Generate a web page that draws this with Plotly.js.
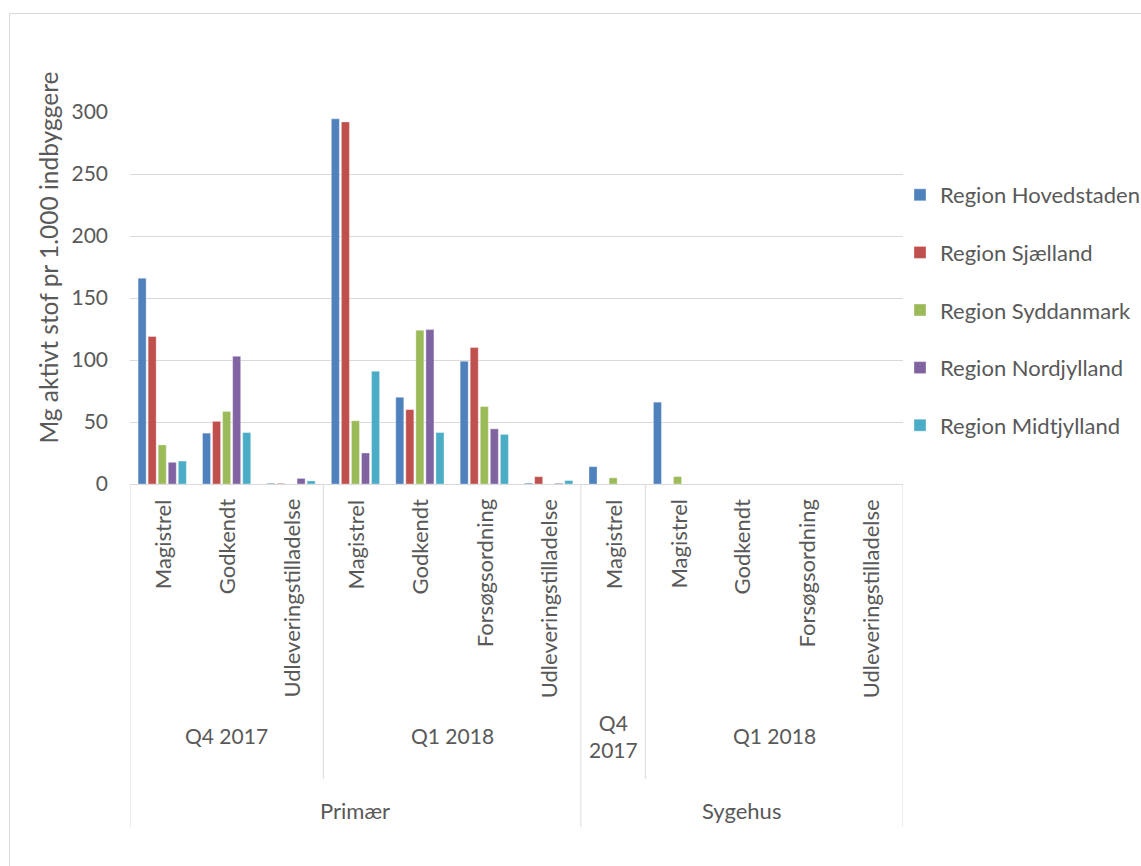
<!DOCTYPE html>
<html>
<head>
<meta charset="utf-8">
<script src="https://cdn.plot.ly/plotly-3.0.1.min.js"></script>
<style>
  html, body { margin: 0; padding: 0; background: #ffffff; }
  #chart { width: 1141px; height: 866px; }
</style>
</head>
<body>
<div id="chart"></div>
<script>
// Category hierarchy (innermost first)
const productTypes = ['Magistrel', 'Godkendt', 'Udleveringstilladelse',
  'Magistrel', 'Godkendt', 'Forsøgsordning', 'Udleveringstilladelse',
  'Magistrel',
  'Magistrel', 'Godkendt', 'Forsøgsordning', 'Udleveringstilladelse'];
const quarters = ['Q4 2017', 'Q4 2017', 'Q4 2017',
  'Q1 2018', 'Q1 2018', 'Q1 2018', 'Q1 2018',
  'Q4 2017',
  'Q1 2018', 'Q1 2018', 'Q1 2018', 'Q1 2018'];
const sectors = ['Primær', 'Primær', 'Primær', 'Primær', 'Primær', 'Primær', 'Primær',
  'Sygehus', 'Sygehus', 'Sygehus', 'Sygehus', 'Sygehus'];

// Series: mg active substance per 1,000 inhabitants
const regionNames = ['Region Hovedstaden', 'Region Sjælland', 'Region Syddanmark',
  'Region Nordjylland', 'Region Midtjylland'];
const hovedstaden = [166, 41, 0.6, 294.5, 70, 99, 0.7, 14, 66, 0, 0, 0];
const sjaelland   = [119, 50.5, 0.5, 292, 60, 110, 5.9, 0, 0, 0, 0, 0];
const syddanmark  = [31.5, 58.5, 0, 51, 124, 62.5, 0, 5, 6, 0, 0, 0];
const nordjylland = [17.5, 103, 4.5, 25, 124.5, 44.5, 0.6, 0, 0, 0, 0, 0];
const midtjylland = [18.5, 41.5, 2.5, 91, 41.5, 40, 2.8, 0, 0, 0, 0, 0];
const seriesValues = [hovedstaden, sjaelland, syddanmark, nordjylland, midtjylland];
const seriesColors = ['#4F81BD', '#C0504D', '#9BBB59', '#8064A2', '#4BACC6'];

const yTickValues = [0, 50, 100, 150, 200, 250, 300];
const yTitle = 'Mg aktivt stof pr 1.000 indbyggere';

// Plot area geometry (px) and helpers to map page pixels to paper units
const W = 1141, H = 866;
const PL = 130, PR = 903, PT = 112, PB = 484;
const px = v => (v - PL) / (PR - PL);
const py = v => (PB - v) / (PB - PT);

const FONT = 'Lato, Carlito, Calibri, "Open Sans", sans-serif';
const TXT = '#595959';
const LINE = '#D9D9D9';
const LABEL_SIZE = 22;

const idx = productTypes.map((_, i) => i);

const traces = seriesValues.map((vals, k) => ({
  type: 'bar',
  x: idx,
  y: vals,
  name: regionNames[k],
  legendgroup: regionNames[k],
  marker: { color: seriesColors[k], line: { color: 'rgba(255,255,255,0.35)', width: 1 } },
  hoverinfo: 'name+y'
}));

// Group consecutive equal labels into runs
function runs(labels, parents) {
  const out = [];
  labels.forEach((lab, i) => {
    const key = lab + '|' + (parents ? parents[i] : '');
    const last = out[out.length - 1];
    if (last && last.key === key) last.end = i;
    else out.push({ key, label: lab, start: i, end: i });
  });
  return out;
}
const quarterRuns = runs(quarters, sectors);
const sectorRuns = runs(sectors);

const annotations = [];
// Value-axis title, set slightly above the middle of the plot
annotations.push({
  x: px(48), xref: 'paper', y: py(257.5), yref: 'paper',
  text: yTitle, showarrow: false, textangle: -90,
  xanchor: 'center', yanchor: 'middle',
  font: { family: FONT, size: 24.5, color: TXT }
});
productTypes.forEach((lab, i) => {
  annotations.push({
    x: i, xref: 'x', y: py(497), yref: 'paper',
    text: lab, showarrow: false, textangle: -90,
    xanchor: 'center', yanchor: 'top',
    font: { family: FONT, size: LABEL_SIZE, color: TXT }
  });
});
quarterRuns.forEach(r => {
  const narrow = r.end === r.start;
  annotations.push({
    x: (r.start + r.end) / 2, xref: 'x', y: py(narrow ? 736 : 735), yref: 'paper',
    text: narrow ? r.label.replace(' ', '<br>') : r.label,
    showarrow: false, xanchor: 'center', yanchor: 'middle',
    font: { family: FONT, size: 21, color: TXT }
  });
});
sectorRuns.forEach(r => {
  annotations.push({
    x: (r.start + r.end) / 2, xref: 'x', y: py(810), yref: 'paper',
    text: r.label, showarrow: false, xanchor: 'center', yanchor: 'middle',
    font: { family: FONT, size: LABEL_SIZE, color: TXT }
  });
});

// Divider lines of the multi-level category axis
const shapes = [];
const sectorBounds = new Set([-0.5]);
sectorRuns.forEach(r => sectorBounds.add(r.end + 0.5));
const quarterBounds = new Set();
quarterRuns.forEach(r => { if (!sectorBounds.has(r.end + 0.5)) quarterBounds.add(r.end + 0.5); });
sectorBounds.forEach(b => shapes.push({
  type: 'line', xref: 'x', yref: 'paper', x0: b, x1: b, y0: py(PB), y1: py(827),
  line: { color: LINE, width: 1 }
}));
quarterBounds.forEach(b => shapes.push({
  type: 'line', xref: 'x', yref: 'paper', x0: b, x1: b, y0: py(PB), y1: py(779),
  line: { color: LINE, width: 1 }
}));
// Chart area border
shapes.push({
  type: 'rect', xref: 'paper', yref: 'paper',
  x0: px(9.5), x1: px(W + 10), y0: py(13.5), y1: py(H + 10),
  line: { color: LINE, width: 1 }, fillcolor: 'rgba(0,0,0,0)', layer: 'below'
});

const layout = {
  width: W, height: H,
  margin: { l: PL, r: W - PR, t: PT, b: H - PB, pad: 0, autoexpand: false },
  paper_bgcolor: '#ffffff', plot_bgcolor: '#ffffff',
  font: { family: FONT, color: TXT },
  barmode: 'group', bargap: 0.22, bargroupgap: 0.2,
  showlegend: true,
  legend: {
    x: px(900), xanchor: 'left', y: py(174), yanchor: 'top',
    font: { family: FONT, size: LABEL_SIZE, color: TXT },
    traceorder: 'grouped', tracegroupgap: 26,
    bgcolor: 'rgba(0,0,0,0)', borderwidth: 0
  },
  xaxis: {
    range: [-0.5, 11.5], showticklabels: false, showgrid: false, zeroline: false,
    showline: true, linecolor: LINE, linewidth: 1, ticks: '', fixedrange: true
  },
  yaxis: {
    range: [0, 300], tickvals: yTickValues, ticktext: yTickValues.map(String),
    showgrid: true, gridcolor: LINE, gridwidth: 1, zeroline: false,
    showline: false, ticks: '', ticklabelstandoff: 21,
    tickfont: { family: FONT, size: 21, color: TXT },
    automargin: false, fixedrange: true
  },
  annotations, shapes
};

Plotly.newPlot('chart', traces, layout, { displayModeBar: false, staticPlot: true });
</script>
</body>
</html>
